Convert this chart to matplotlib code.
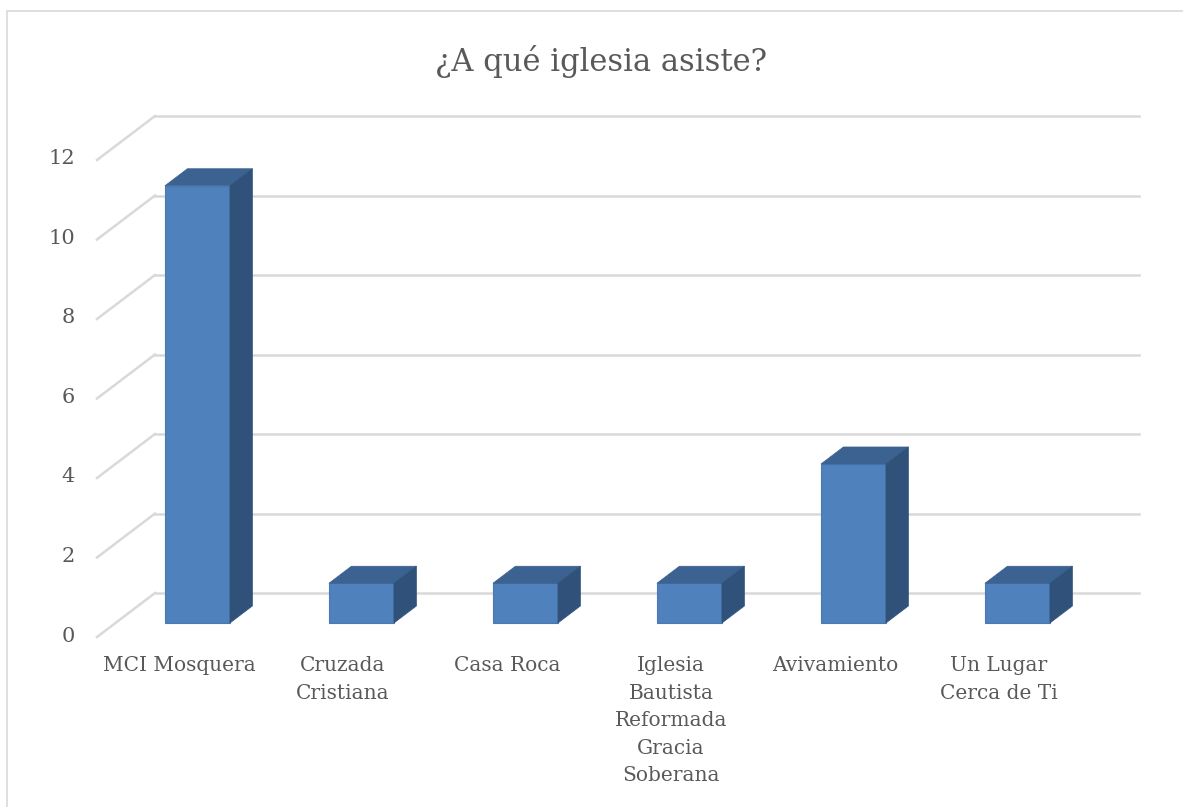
import matplotlib
matplotlib.use("Agg")
import matplotlib.pyplot as plt
from matplotlib.patches import Polygon, Rectangle

categories = ["MCI Mosquera", "Cruzada\nCristiana", "Casa Roca",
              "Iglesia\nBautista\nReformada\nGracia\nSoberana",
              "Avivamiento", "Un Lugar\nCerca de Ti"]
values = [11, 1, 1, 1, 4, 1]
yticks = [0, 2, 4, 6, 8, 10, 12]
title = "¿A qué iglesia asiste?"

W, H = 1183, 807
fig = plt.figure(figsize=(W / 100, H / 100), dpi=100)
ax = fig.add_axes([0, 0, 1, 1])

# pixel mapping: x_pix = 179 + 164*x ; y_pix(top) = 637 - 39.75*v
px_x, x0 = 164.0, 179.0
px_y, y0 = 39.75, 637.0
ax.set_xlim(-x0 / px_x, (W - x0) / px_x)
ax.set_ylim((y0 - H) / px_y, y0 / px_y)
ax.axis("off")

ddx = 58 / px_x      # full depth offset (x, data units)
ddy = 44 / px_y      # full depth offset (y, data units)
f1, f2 = 0.318, 0.705  # bar front / back depth fractions
bw = 65 / px_x
n = len(categories)
fs = "DejaVu Serif"
tc = "#595959"
gc = "#D9D9D9"

# chart border (right/bottom edges fall outside the image)
ax.add_patch(Rectangle((-(x0 - 7) / px_x, (y0 - 830) / px_y),
                       (W + 40) / px_x, (830 - 11) / px_y,
                       fill=False, edgecolor=gc, lw=1.2, zorder=0, clip_on=True))

# gridlines on back wall + left side diagonals
for v in yticks:
    ax.plot([-0.5 + ddx, n - 0.5 + ddx], [v + ddy, v + ddy], color=gc, lw=1.8, zorder=1)
    ax.plot([-0.5, -0.5 + ddx], [v, v + ddy], color=gc, lw=1.8, zorder=1)
    ax.text(-0.5 - 22 / px_x, v + 1 / px_y, str(v), ha="right", va="center",
            fontsize=15, color=tc, family=fs)

front_c = "#4F81BD"
top_c = "#3C6292"
side_c = "#30527A"
for i, v in enumerate(values):
    xl = i - bw / 2 + f1 * ddx
    xr = xl + bw
    yb = f1 * ddy
    yt = v + f1 * ddy
    dx = (f2 - f1) * ddx
    dy = (f2 - f1) * ddy
    ax.bar(xl, v, width=bw, bottom=yb, align="edge", color=front_c,
           edgecolor="#4A7AB3", lw=0.8, zorder=3)
    ax.add_patch(Polygon([(xl, yt), (xr, yt), (xr + dx, yt + dy), (xl + dx, yt + dy)],
                         closed=True, facecolor=top_c, edgecolor=top_c, lw=0.5, zorder=3))
    ax.add_patch(Polygon([(xr, yb), (xr + dx, yb + dy), (xr + dx, yt + dy), (xr, yt)],
                         closed=True, facecolor=side_c, edgecolor=side_c, lw=0.5, zorder=3))
    ax.text(i, (y0 - 656) / px_y, categories[i], ha="center", va="top",
            fontsize=14.5, color=tc, family=fs, linespacing=1.57)

ax.text((601 - x0) / px_x, (y0 - 61) / px_y, title, ha="center", va="center",
        fontsize=22, color=tc, family=fs)

fig.savefig("out.png", dpi=100)
